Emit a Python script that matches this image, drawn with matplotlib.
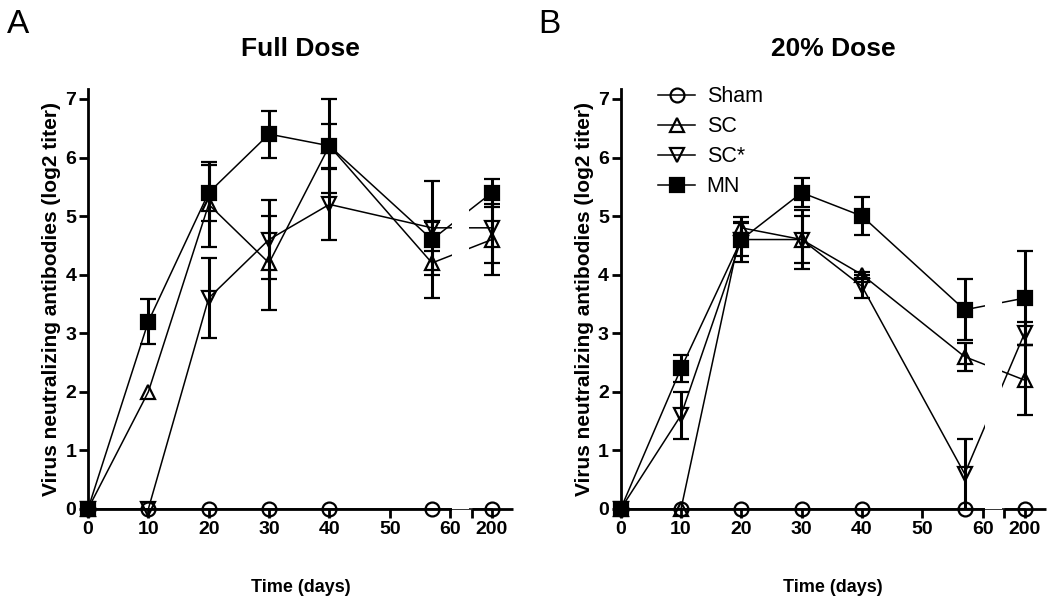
import numpy as np
import matplotlib
matplotlib.use('Agg')
import matplotlib.pyplot as plt

plt.rcParams['font.family'] = ['Liberation Sans', 'DejaVu Sans']

days = [0, 10, 20, 30, 40, 57, 200]
nan = np.nan

# Full Dose
full_sham = [0, 0, 0, 0, 0, 0, 0]
full_sc = [0, 2.0, 5.2, 4.2, 6.2, 4.2, 4.6]
full_sc_err = [nan, nan, 0.72, 0.8, 0.8, 0.2, 0.6]
full_scs = [0, 0, 3.6, 4.6, 5.2, 4.8, 4.8]
full_scs_err = [nan, nan, 0.68, 0.68, 0.6, 0.1, 0.6]
full_mn = [0, 3.2, 5.4, 6.4, 6.2, 4.6, 5.4]
full_mn_err = [nan, 0.38, 0.48, 0.4, 0.38, 1.0, 0.24]

# 20% Dose
low_sham = [0, 0, 0, 0, 0, 0, 0]
low_sc = [0, 0, 4.8, 4.6, 4.0, 2.6, 2.2]
low_sc_err = [nan, nan, 0.1, 0.5, 0.05, 0.24, 0.6]
low_scs = [0, 1.6, 4.6, 4.6, 3.8, 0.6, 3.0]
low_scs_err = [nan, 0.4, 0.28, 0.4, 0.2, 0.6, 0.2]
low_mn = [0, 2.4, 4.6, 5.4, 5.0, 3.4, 3.6]
low_mn_err = [nan, 0.23, 0.38, 0.25, 0.32, 0.52, 0.8]

labels = ['Sham', 'SC', 'SC*', 'MN']
markers = ['o', '^', 'v', 's']
xticks = [0, 10, 20, 30, 40, 50, 60, 190, 200]
xticklabels = ['0', '10', '20', '30', '40', '50', '60', '', '200']

# broken time axis: 0-60 linear, then 190-210 squeezed in after a gap
brk_d = [-50, 60, 190, 400]
brk_p = [-50, 60, 63.6, 133.6]
def fwd(x):
    return np.interp(x, brk_d, brk_p)
def inv(p):
    return np.interp(p, brk_p, brk_d)

fig = plt.figure(figsize=(10.5, 6.05), dpi=100)
ax1 = fig.add_axes([0.0838, 0.1587, 0.4048, 0.6942])
ax2 = fig.add_axes([0.5911, 0.1587, 0.4048, 0.6942])

def panel(ax, series, title):
    ax.set_xscale('function', functions=(fwd, inv))
    handles = []
    for (vals, err), m, lab in zip(series, markers, labels):
        mfc = 'black' if m == 's' else 'none'
        ms = 10.5 if m == 's' else 10
        eb = ax.errorbar(days, vals, yerr=err, fmt='-', marker=m, color='black',
                         lw=1.1, ms=ms, mfc=mfc, mec='black', mew=1.6,
                         ecolor='black', elinewidth=2.2, capsize=6, capthick=2.2,
                         clip_on=False, label=lab)
        handles.append(eb[0])
    ax.axvspan(74, 176, color='white', zorder=2.2, lw=0)
    ax.set_xlim(0, 210.5)
    ax.set_ylim(0, 7.17)
    ax.set_xticks(xticks)
    ax.set_xticklabels(xticklabels)
    ax.set_yticks(range(8))
    for s in ['top', 'right']:
        ax.spines[s].set_visible(False)
    ax.spines['left'].set_linewidth(2)
    ax.spines['bottom'].set_linewidth(2)
    ax.spines['bottom'].set_bounds(0, 60)
    ax.spines['bottom'].set_zorder(3)
    ax.hlines(0, 190, 210.5, color='black', lw=2, clip_on=False, zorder=3)
    ax.tick_params(direction='out', length=6.5, width=2, labelsize=14, pad=2)
    for t in ax.get_xticklabels() + ax.get_yticklabels():
        t.set_fontweight('bold')
    ax.set_xlabel('Time (days)', fontsize=13, fontweight='bold', labelpad=30)
    ax.set_ylabel('Virus neutralizing antibodies (log2 titer)', fontsize=15,
                  fontweight='bold', labelpad=3)
    ax.set_title(title, fontsize=19, fontweight='bold', pad=24)
    return handles

panel(ax1, [(full_sham, None), (full_sc, full_sc_err), (full_scs, full_scs_err),
            (full_mn, full_mn_err)], 'Full Dose')
h = panel(ax2, [(low_sham, None), (low_sc, low_sc_err), (low_scs, low_scs_err),
                (low_mn, low_mn_err)], '20% Dose')
ax2.legend(handles=h, labels=labels, loc='upper left', bbox_to_anchor=(0.043, 1.053),
           frameon=False, fontsize=15.5, handlelength=1.7, handletextpad=0.55,
           labelspacing=0.42)

fig.text(0.007, 0.985, 'A', fontsize=24, va='top')
fig.text(0.513, 0.985, 'B', fontsize=24, va='top')

fig.savefig('out.png', dpi=100)
